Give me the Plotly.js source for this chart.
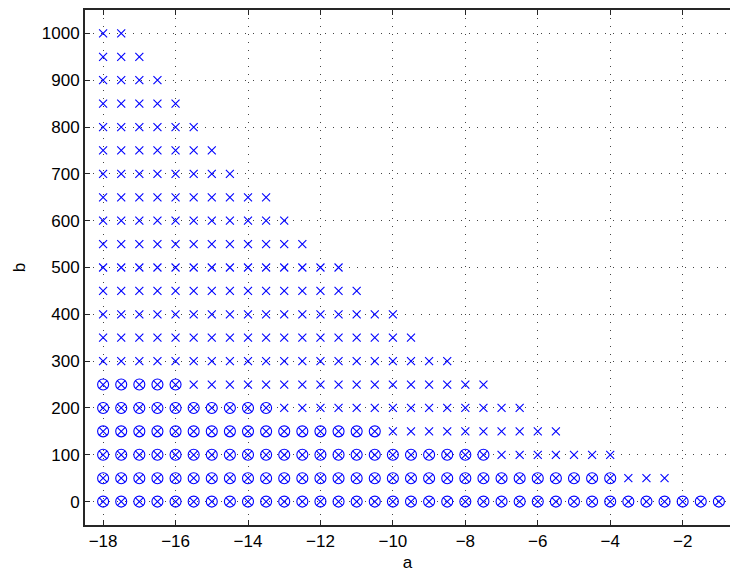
<!DOCTYPE html>
<html>
<head>
<meta charset="utf-8">
<script src="https://cdn.plot.ly/plotly-3.0.1.min.js"></script>
<style>
  html, body { margin: 0; padding: 0; background: #fff; overflow: hidden; }
  #chart { width: 730px; height: 572px; }
</style>
</head>
<body>
<div id="chart"></div>
<script>
// Grid of b values (rows) and the a-range start
const bValues = [0, 50, 100, 150, 200, 250, 300, 350, 400, 450, 500,
                 550, 600, 650, 700, 750, 800, 850, 900, 950, 1000];
const aStart = -18;
const aStep = 0.5;

// Last a value marked with a cross in each row
const crossEdge = [-1, -2.5, -4, -5.5, -6.5, -7.5, -8.5, -9.5, -10, -11, -11.5,
                   -12.5, -13, -13.5, -14.5, -15, -15.5, -16, -16.5, -17, -17.5];

// Last a value marked with a circle in each row (null: no circles)
const circleEdge = [-1, -4, -7.5, -10.5, -13.5, -16, null, null, null, null, null,
                    null, null, null, null, null, null, null, null, null, null];

const xTicks = [-18, -16, -14, -12, -10, -8, -6, -4, -2];
const yTicks = [0, 100, 200, 300, 400, 500, 600, 700, 800, 900, 1000];

function rowPoints(edges) {
  const xs = [], ys = [];
  bValues.forEach((b, i) => {
    const end = edges[i];
    if (end === null) return;
    for (let a = aStart; a <= end + 1e-9; a += aStep) {
      xs.push(a);
      ys.push(b);
    }
  });
  return { xs, ys };
}

const crosses = rowPoints(crossEdge);
const circles = rowPoints(circleEdge);

const blue = '#0000ff';

const data = [
  {
    type: 'scatter', mode: 'markers',
    x: crosses.xs, y: crosses.ys,
    marker: { symbol: 'x-thin-open', size: 8, color: blue, line: { color: blue, width: 1.1 } },
    hoverinfo: 'x+y'
  },
  {
    type: 'scatter', mode: 'markers',
    x: circles.xs, y: circles.ys,
    marker: { symbol: 'circle-open', size: 11, color: blue, line: { color: blue, width: 1.1 } },
    hoverinfo: 'x+y'
  }
];

const axisFont = { family: 'Liberation Sans, Arial, Helvetica, sans-serif', size: 17, color: '#000' };

const layout = {
  width: 730,
  height: 572,
  margin: { l: 85, r: 0, t: 10, b: 47, pad: 0 },
  paper_bgcolor: '#fff',
  plot_bgcolor: '#fff',
  showlegend: false,
  font: axisFont,
  xaxis: {
    range: [-18.5, -0.693],
    tickvals: xTicks,
    ticks: 'inside', ticklen: 5, tickwidth: 1, tickcolor: '#262626',
    showline: true, linecolor: '#262626', linewidth: 2, mirror: 'ticks',
    showgrid: true, gridcolor: '#444', gridwidth: 1, griddash: '1px,7px',
    zeroline: false,
    tickfont: axisFont,
    title: { text: 'a', font: axisFont, standoff: 6 }
  },
  yaxis: {
    range: [-50, 1050],
    tickvals: yTicks,
    ticks: 'inside', ticklen: 5, tickwidth: 1, tickcolor: '#262626',
    showline: true, linecolor: '#262626', linewidth: 2, mirror: true,
    showgrid: true, gridcolor: '#444', gridwidth: 1, griddash: '1px,7px',
    zeroline: false,
    tickfont: axisFont,
    title: { text: 'b', font: axisFont, standoff: 12 }
  }
};

Plotly.newPlot('chart', data, layout, { displayModeBar: false, staticPlot: true });
</script>
</body>
</html>
